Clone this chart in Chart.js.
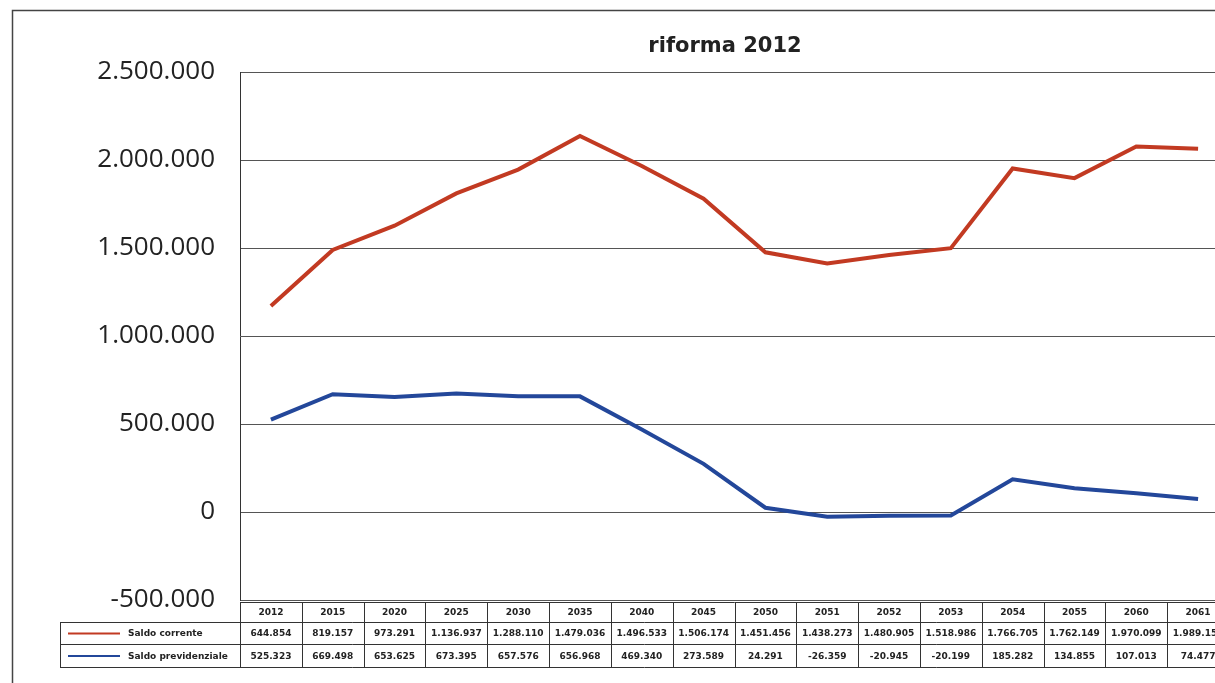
<!DOCTYPE html>
<html>
<head>
<meta charset="utf-8">
<script src="https://cdn.jsdelivr.net/npm/chart.js@4/dist/chart.umd.min.js"></script>
<style>
  html, body { margin: 0; padding: 0; background: #fff; overflow: hidden; width: 1215px; height: 683px; }
  #wrap { position: absolute; left: 0; top: 0; width: 1240px; height: 683px; }
</style>
</head>
<body>
<div id="wrap"><canvas id="c" width="1240" height="683"></canvas></div>
<script>
const categories = ['2012','2015','2020','2025','2030','2035','2040','2045','2050','2051','2052','2053','2054','2055','2060','2061'];
const saldoCorrente = [644854, 819157, 973291, 1136937, 1288110, 1479036, 1496533, 1506174, 1451456, 1438273, 1480905, 1518986, 1766705, 1762149, 1970099, 1989150];
const saldoPrevidenziale = [525323, 669498, 653625, 673395, 657576, 656968, 469340, 273589, 24291, -26359, -20945, -20199, 185282, 134855, 107013, 74477];
const seriesNames = ['Saldo corrente', 'Saldo previdenziale'];
const yMin = -500000, yMax = 2500000, yStep = 500000;
const titleText = 'riforma 2012';

const RED = '#c23a22';
const BLUE = '#23479a';

function fmtIt(v) {
  const neg = v < 0;
  const s = String(Math.abs(Math.round(v))).replace(/\B(?=(\d{3})+(?!\d))/g, '.');
  return (neg ? '-' : '') + s;
}

const framePlugin = {
  id: 'frame',
  beforeDraw(chart) {
    const ctx = chart.ctx;
    ctx.save();
    ctx.strokeStyle = '#444';
    ctx.lineWidth = 1.5;
    ctx.beginPath();
    ctx.moveTo(12.5, 683);
    ctx.lineTo(12.5, 10.5);
    ctx.lineTo(1240, 10.5);
    ctx.stroke();
    // title
    ctx.fillStyle = '#222';
    ctx.font = 'bold 21px "DejaVu Sans", Verdana, sans-serif';
    ctx.textAlign = 'center';
    ctx.textBaseline = 'middle';
    ctx.fillText(titleText, 725, 47);
    ctx.restore();
  }
};

const tablePlugin = {
  id: 'dataTable',
  afterDraw(chart) {
    const ctx = chart.ctx;
    const xs = chart.scales.x;
    const ca = chart.chartArea;
    const band = xs.getPixelForValue(1) - xs.getPixelForValue(0);
    const top = ca.bottom + 2;
    const rowTops = [top, top + 20, top + 42, top + 65];
    const legLeft = 60;
    ctx.save();
    ctx.strokeStyle = '#333';
    ctx.lineWidth = 1;
    const right = xs.getPixelForValue(categories.length - 1) + band / 2;
    ctx.beginPath();
    ctx.moveTo(ca.left, rowTops[0] + 0.5); ctx.lineTo(right, rowTops[0] + 0.5);
    for (let r = 1; r < 4; r++) {
      ctx.moveTo(legLeft, rowTops[r] + 0.5); ctx.lineTo(right, rowTops[r] + 0.5);
    }
    ctx.moveTo(legLeft + 0.5, rowTops[1]); ctx.lineTo(legLeft + 0.5, rowTops[3]);
    for (let i = 0; i <= categories.length; i++) {
      const x = Math.round(xs.getPixelForValue(0) - band / 2 + i * band) + 0.5;
      ctx.moveTo(x, rowTops[0]); ctx.lineTo(x, rowTops[3]);
    }
    ctx.stroke();

    ctx.fillStyle = '#222';
    ctx.font = 'bold 9px "DejaVu Sans", Verdana, sans-serif';
    ctx.textAlign = 'center';
    ctx.textBaseline = 'middle';
    const rows = [saldoCorrente, saldoPrevidenziale];
    categories.forEach((c, i) => {
      const x = xs.getPixelForValue(i);
      ctx.fillText(c, x, (rowTops[0] + rowTops[1]) / 2 + 1);
      rows.forEach((arr, r) => {
        ctx.fillText(fmtIt(arr[i]), x, (rowTops[r + 1] + rowTops[r + 2]) / 2 + 1);
      });
    });
    const colors = [RED, BLUE];
    ctx.textAlign = 'left';
    seriesNames.forEach((n, r) => {
      const y = (rowTops[r + 1] + rowTops[r + 2]) / 2 + 0.5;
      ctx.strokeStyle = colors[r];
      ctx.lineWidth = 2;
      ctx.beginPath(); ctx.moveTo(68, y); ctx.lineTo(120, y); ctx.stroke();
      ctx.fillText(n, 128, y + 0.5);
    });
    ctx.restore();
  }
};

const chart = new Chart(document.getElementById('c'), {
  type: 'line',
  data: {
    labels: categories,
    datasets: [
      { label: seriesNames[1], data: saldoPrevidenziale, borderColor: BLUE, backgroundColor: BLUE, borderWidth: 4, pointRadius: 0, tension: 0, fill: false },
      { label: seriesNames[0], data: saldoCorrente, borderColor: RED, backgroundColor: RED, borderWidth: 4, pointRadius: 0, tension: 0, fill: false }
    ]
  },
  options: {
    responsive: false,
    devicePixelRatio: 1,
    animation: false,
    layout: { padding: { top: 72, left: 0, right: 11, bottom: 75 } },
    plugins: {
      legend: { display: false },
      tooltip: { enabled: false },
      title: { display: false }
    },
    scales: {
      x: {
        offset: true,
        grid: { display: false },
        border: { display: false },
        ticks: { display: false }
      },
      y: {
        stacked: 'single',
        min: yMin, max: yMax,
        afterFit(scale) { scale.width = 240; },
        border: { display: true, color: '#333', width: 1 },
        grid: { color: '#555', lineWidth: 1, drawTicks: false },
        ticks: {
          stepSize: yStep,
          padding: 25,
          color: '#222',
          font: { family: '"Open Sans", sans-serif', size: 26 },
          callback: (v) => fmtIt(v)
        }
      }
    }
  },
  plugins: [framePlugin, tablePlugin]
});
</script>
</body>
</html>
